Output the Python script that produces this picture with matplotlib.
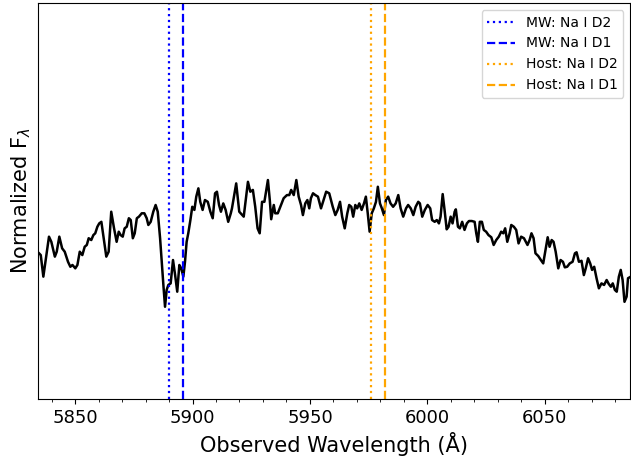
import matplotlib
matplotlib.use('Agg')
import matplotlib.pyplot as plt
from matplotlib.ticker import MultipleLocator

# spectrum (observed wavelength in Angstrom, normalized flux)
wave = [5834.0, 5835.4, 5836.5, 5837.8, 5838.9, 5839.9, 5841.4, 5842.2, 5843.3, 5844.5,
        5845.6, 5847.0, 5848.0, 5848.9, 5850.1, 5851.0, 5852.0, 5853.1, 5854.1, 5855.0,
        5855.8, 5856.9, 5857.8, 5858.6, 5859.5, 5860.3, 5861.2, 5862.0, 5863.3, 5864.3,
        5865.4, 5866.6, 5867.7, 5868.6, 5869.4, 5870.3, 5871.1, 5872.0, 5872.9, 5873.7,
        5874.6, 5875.4, 5876.3, 5877.2, 5878.4, 5879.5, 5880.5, 5881.2, 5882.2, 5883.3,
        5884.3, 5885.2, 5886.2, 5886.9, 5887.6, 5888.3, 5889.0, 5889.7, 5890.7, 5891.7,
        5892.6, 5893.5, 5894.4, 5895.2, 5896.1, 5896.8, 5897.5, 5898.2, 5899.1, 5899.9,
        5900.8, 5901.6, 5902.5, 5903.3, 5904.3, 5905.3, 5906.5, 5907.6, 5908.6, 5909.6,
        5910.4, 5911.3, 5912.1, 5913.1, 5914.1, 5915.2, 5916.3, 5916.8, 5918.6, 5919.9,
        5921.8, 5923.6, 5924.6, 5925.7, 5926.7, 5927.7, 5928.6, 5929.6, 5930.6, 5932.1,
        5932.9, 5933.5, 5934.6, 5935.2, 5936.3, 5937.4, 5938.8, 5940.2, 5941.2, 5942.0,
        5943.1, 5944.2, 5945.2, 5946.2, 5947.0, 5948.0, 5948.9, 5949.7, 5950.4, 5951.3,
        5952.3, 5953.4, 5954.7, 5955.8, 5956.9, 5958.2, 5959.7, 5960.8, 5961.8, 5962.8,
        5963.7, 5964.8, 5965.9, 5966.7, 5967.6, 5968.4, 5969.3, 5970.1, 5971.0, 5972.0,
        5973.0, 5973.8, 5974.6, 5975.4, 5976.3, 5977.2, 5978.1, 5978.9, 5979.8, 5980.6,
        5981.5, 5982.3, 5983.3, 5984.3, 5985.4, 5986.5, 5987.6, 5988.6, 5989.7, 5990.9,
        5991.8, 5992.9, 5994.0, 5995.0, 5996.1, 5996.8, 5997.8, 5998.9, 6000.1, 6001.2,
        6002.0, 6003.1, 6004.0, 6004.9, 6005.6, 6006.5, 6007.3, 6008.2, 6009.0, 6009.9,
        6010.7, 6011.6, 6012.1, 6013.0, 6013.8, 6014.8, 6015.8, 6016.8, 6017.7, 6018.9,
        6020.1, 6020.8, 6021.5, 6022.3, 6023.2, 6024.0, 6025.0, 6026.0, 6027.2, 6028.2,
        6029.3, 6030.4, 6031.4, 6032.3, 6033.1, 6034.0, 6035.0, 6035.7, 6036.8, 6037.8,
        6038.8, 6039.9, 6041.1, 6042.6, 6043.5, 6044.3, 6045.2, 6046.0, 6047.2, 6048.3,
        6049.3, 6050.3, 6051.2, 6052.0, 6052.9, 6053.7, 6054.6, 6055.7, 6056.7, 6057.7,
        6058.5, 6059.5, 6060.6, 6061.8, 6062.8, 6063.5, 6064.5, 6065.6, 6066.6, 6067.4,
        6068.4, 6069.3, 6070.1, 6071.0, 6072.0, 6073.0, 6074.1, 6075.2, 6076.3, 6077.2,
        6078.1, 6078.9, 6079.8, 6080.6, 6081.5, 6082.3, 6083.1, 6083.9, 6084.8, 6085.4,
        6086.6]
flux = [0.744, 0.727, 0.618, 0.727, 0.820, 0.794, 0.719, 0.744, 0.820, 0.761,
        0.744, 0.693, 0.668, 0.677, 0.660, 0.677, 0.744, 0.727, 0.769, 0.778,
        0.812, 0.803, 0.828, 0.837, 0.870, 0.887, 0.895, 0.828, 0.719, 0.744,
        0.946, 0.862, 0.794, 0.845, 0.828, 0.820, 0.862, 0.870, 0.913, 0.904,
        0.812, 0.837, 0.913, 0.921, 0.938, 0.938, 0.913, 0.879, 0.895, 0.946,
        0.980, 0.946, 0.812, 0.693, 0.576, 0.466, 0.551, 0.576, 0.584, 0.702,
        0.626, 0.542, 0.677, 0.660, 0.618, 0.693, 0.794, 0.837, 0.904, 0.971,
        0.955, 1.022, 1.064, 0.996, 0.955, 1.005, 0.996, 0.946, 0.913, 1.039,
        1.047, 0.980, 0.946, 0.988, 0.955, 0.895, 0.938, 0.963, 1.089, 0.946,
        0.921, 1.097, 1.047, 1.056, 0.971, 0.862, 0.837, 0.996, 0.996, 1.106,
        1.005, 0.908, 0.980, 0.938, 0.938, 0.971, 1.014, 1.030, 1.030, 1.056,
        1.030, 1.106, 1.022, 0.980, 0.929, 0.988, 1.005, 0.963, 1.014, 1.039,
        1.030, 1.022, 0.963, 1.005, 1.047, 1.039, 0.971, 0.929, 0.955, 0.996,
        0.921, 0.862, 0.938, 0.980, 0.971, 0.921, 0.980, 0.963, 0.988, 0.955,
        0.988, 1.022, 0.938, 0.845, 0.938, 0.963, 0.996, 1.072, 0.988, 0.963,
        0.929, 1.005, 1.022, 0.988, 0.971, 0.988, 1.030, 0.963, 0.921, 0.963,
        0.980, 0.963, 0.929, 0.971, 0.996, 0.988, 0.921, 0.955, 0.980, 0.963,
        0.904, 0.895, 0.904, 0.887, 0.921, 1.035, 0.955, 0.857, 0.870, 0.921,
        0.887, 0.946, 0.958, 0.870, 0.862, 0.895, 0.854, 0.887, 0.899, 0.899,
        0.895, 0.837, 0.794, 0.895, 0.895, 0.854, 0.845, 0.828, 0.817, 0.778,
        0.803, 0.820, 0.845, 0.837, 0.862, 0.794, 0.837, 0.879, 0.870, 0.854,
        0.786, 0.820, 0.812, 0.778, 0.803, 0.837, 0.812, 0.736, 0.722, 0.702,
        0.685, 0.753, 0.817, 0.769, 0.803, 0.794, 0.744, 0.660, 0.702, 0.693,
        0.665, 0.668, 0.685, 0.693, 0.736, 0.741, 0.693, 0.698, 0.626, 0.660,
        0.711, 0.685, 0.652, 0.668, 0.610, 0.559, 0.584, 0.576, 0.601, 0.581,
        0.567, 0.584, 0.551, 0.542, 0.618, 0.652, 0.601, 0.491, 0.517, 0.610,
        0.618]

# Na I D lines
mw_lines = [5889.95, 5895.92]
host_lines = [5976.0, 5982.0]
line_names = ['Na I D2', 'Na I D1']

fig = plt.figure(figsize=(6.31, 4.59), dpi=100)
ax = fig.add_axes([0.0605, 0.1307, 0.9385, 0.8627])

ax.plot(wave, flux, color='black', lw=1.8)

styles = [':', '--']
for i in range(2):
    ax.axvline(mw_lines[i], color='blue', ls=styles[i], lw=1.6, label='MW: ' + line_names[i])
for i in range(2):
    ax.axvline(host_lines[i], color='orange', ls=styles[i], lw=1.6, label='Host: ' + line_names[i])

ax.set_xlim(5834.3, 6086.4)
ax.set_ylim(0, 2.0)
ax.set_yticks([])
ax.xaxis.set_minor_locator(MultipleLocator(10))
ax.tick_params(axis='x', labelsize=13)
ax.set_xlabel('Observed Wavelength (Å)', fontsize=15)
ax.set_ylabel(r'Normalized F$_\lambda$', fontsize=15)
ax.legend(loc='upper right', fontsize=10)

fig.savefig('out.png', dpi=100)
